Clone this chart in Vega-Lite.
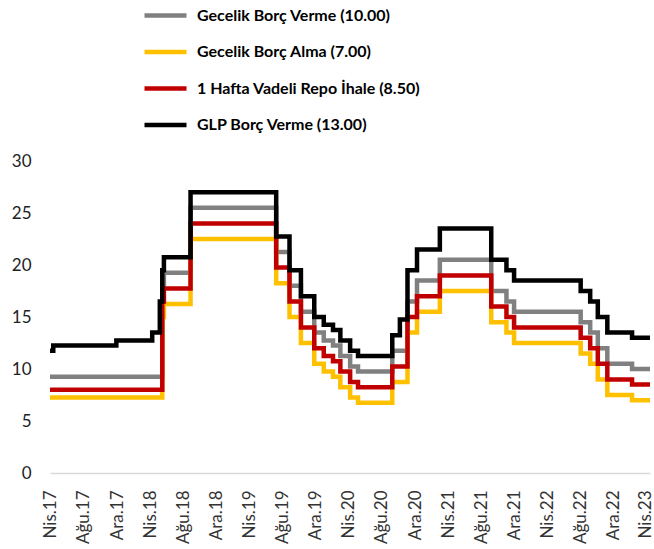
{
  "$schema": "https://vega.github.io/schema/vega-lite/v6.json",
  "autosize": {"type": "none"},
  "width": 600,
  "height": 312,
  "padding": {"left": 50, "top": 161, "right": 4, "bottom": 76},
  "background": "white",
  "config": {
    "view": {"stroke": null},
    "font": "Lato"
  },
  "data": {
    "values": [
      {"d": "2017-04-14", "s": "G", "v": 9.25},
      {"d": "2018-06-01", "s": "G", "v": 18.0},
      {"d": "2018-06-07", "s": "G", "v": 19.25},
      {"d": "2018-09-13", "s": "G", "v": 25.5},
      {"d": "2019-07-25", "s": "G", "v": 21.25},
      {"d": "2019-09-12", "s": "G", "v": 18.0},
      {"d": "2019-10-24", "s": "G", "v": 15.5},
      {"d": "2019-12-12", "s": "G", "v": 13.5},
      {"d": "2020-01-16", "s": "G", "v": 12.75},
      {"d": "2020-02-19", "s": "G", "v": 12.25},
      {"d": "2020-03-17", "s": "G", "v": 11.25},
      {"d": "2020-04-22", "s": "G", "v": 10.25},
      {"d": "2020-05-21", "s": "G", "v": 9.75},
      {"d": "2020-09-24", "s": "G", "v": 11.75},
      {"d": "2020-11-19", "s": "G", "v": 16.5},
      {"d": "2020-12-24", "s": "G", "v": 18.5},
      {"d": "2021-03-18", "s": "G", "v": 20.5},
      {"d": "2021-09-23", "s": "G", "v": 17.5},
      {"d": "2021-11-18", "s": "G", "v": 16.5},
      {"d": "2021-12-16", "s": "G", "v": 15.5},
      {"d": "2022-08-18", "s": "G", "v": 14.5},
      {"d": "2022-09-22", "s": "G", "v": 13.5},
      {"d": "2022-10-20", "s": "G", "v": 12.0},
      {"d": "2022-11-24", "s": "G", "v": 10.5},
      {"d": "2023-02-23", "s": "G", "v": 10.0},
      {"d": "2023-04-30", "s": "G", "v": 10.0},

      {"d": "2017-04-14", "s": "A", "v": 7.25},
      {"d": "2018-06-01", "s": "A", "v": 15.0},
      {"d": "2018-06-07", "s": "A", "v": 16.25},
      {"d": "2018-09-13", "s": "A", "v": 22.5},
      {"d": "2019-07-25", "s": "A", "v": 18.25},
      {"d": "2019-09-12", "s": "A", "v": 15.0},
      {"d": "2019-10-24", "s": "A", "v": 12.5},
      {"d": "2019-12-12", "s": "A", "v": 10.5},
      {"d": "2020-01-16", "s": "A", "v": 9.75},
      {"d": "2020-02-19", "s": "A", "v": 9.25},
      {"d": "2020-03-17", "s": "A", "v": 8.25},
      {"d": "2020-04-22", "s": "A", "v": 7.25},
      {"d": "2020-05-21", "s": "A", "v": 6.75},
      {"d": "2020-09-24", "s": "A", "v": 8.75},
      {"d": "2020-11-19", "s": "A", "v": 13.5},
      {"d": "2020-12-24", "s": "A", "v": 15.5},
      {"d": "2021-03-18", "s": "A", "v": 17.5},
      {"d": "2021-09-23", "s": "A", "v": 14.5},
      {"d": "2021-11-18", "s": "A", "v": 13.5},
      {"d": "2021-12-16", "s": "A", "v": 12.5},
      {"d": "2022-08-18", "s": "A", "v": 11.5},
      {"d": "2022-09-22", "s": "A", "v": 10.5},
      {"d": "2022-10-20", "s": "A", "v": 9.0},
      {"d": "2022-11-24", "s": "A", "v": 7.5},
      {"d": "2023-02-23", "s": "A", "v": 7.0},
      {"d": "2023-04-30", "s": "A", "v": 7.0},

      {"d": "2017-04-14", "s": "R", "v": 8.0},
      {"d": "2018-06-01", "s": "R", "v": 16.5},
      {"d": "2018-06-07", "s": "R", "v": 17.75},
      {"d": "2018-09-13", "s": "R", "v": 24.0},
      {"d": "2019-07-25", "s": "R", "v": 19.75},
      {"d": "2019-09-12", "s": "R", "v": 16.5},
      {"d": "2019-10-24", "s": "R", "v": 14.0},
      {"d": "2019-12-12", "s": "R", "v": 12.0},
      {"d": "2020-01-16", "s": "R", "v": 11.25},
      {"d": "2020-02-19", "s": "R", "v": 10.75},
      {"d": "2020-03-17", "s": "R", "v": 9.75},
      {"d": "2020-04-22", "s": "R", "v": 8.75},
      {"d": "2020-05-21", "s": "R", "v": 8.25},
      {"d": "2020-09-24", "s": "R", "v": 10.25},
      {"d": "2020-11-19", "s": "R", "v": 15.0},
      {"d": "2020-12-24", "s": "R", "v": 17.0},
      {"d": "2021-03-18", "s": "R", "v": 19.0},
      {"d": "2021-09-23", "s": "R", "v": 16.0},
      {"d": "2021-11-18", "s": "R", "v": 15.0},
      {"d": "2021-12-16", "s": "R", "v": 14.0},
      {"d": "2022-08-18", "s": "R", "v": 13.0},
      {"d": "2022-09-22", "s": "R", "v": 12.0},
      {"d": "2022-10-20", "s": "R", "v": 10.5},
      {"d": "2022-11-24", "s": "R", "v": 9.0},
      {"d": "2023-02-23", "s": "R", "v": 8.5},
      {"d": "2023-04-30", "s": "R", "v": 8.5},

      {"d": "2017-04-14", "s": "L", "v": 11.75},
      {"d": "2017-04-26", "s": "L", "v": 12.25},
      {"d": "2017-12-14", "s": "L", "v": 12.75},
      {"d": "2018-04-25", "s": "L", "v": 13.5},
      {"d": "2018-05-23", "s": "L", "v": 16.5},
      {"d": "2018-06-01", "s": "L", "v": 19.5},
      {"d": "2018-06-07", "s": "L", "v": 20.75},
      {"d": "2018-09-13", "s": "L", "v": 27.0},
      {"d": "2019-07-25", "s": "L", "v": 22.75},
      {"d": "2019-09-12", "s": "L", "v": 19.5},
      {"d": "2019-10-24", "s": "L", "v": 17.0},
      {"d": "2019-12-12", "s": "L", "v": 15.0},
      {"d": "2020-01-16", "s": "L", "v": 14.25},
      {"d": "2020-02-19", "s": "L", "v": 13.75},
      {"d": "2020-03-17", "s": "L", "v": 12.75},
      {"d": "2020-04-22", "s": "L", "v": 11.75},
      {"d": "2020-05-21", "s": "L", "v": 11.25},
      {"d": "2020-09-24", "s": "L", "v": 13.25},
      {"d": "2020-10-22", "s": "L", "v": 14.75},
      {"d": "2020-11-19", "s": "L", "v": 19.5},
      {"d": "2020-12-24", "s": "L", "v": 21.5},
      {"d": "2021-03-18", "s": "L", "v": 23.5},
      {"d": "2021-09-23", "s": "L", "v": 20.5},
      {"d": "2021-11-18", "s": "L", "v": 19.5},
      {"d": "2021-12-16", "s": "L", "v": 18.5},
      {"d": "2022-08-18", "s": "L", "v": 17.5},
      {"d": "2022-09-22", "s": "L", "v": 16.5},
      {"d": "2022-10-20", "s": "L", "v": 15.0},
      {"d": "2022-11-24", "s": "L", "v": 13.5},
      {"d": "2023-02-23", "s": "L", "v": 13.0},
      {"d": "2023-04-30", "s": "L", "v": 13.0}
    ]
  },
  "mark": {"type": "line", "interpolate": "step-after", "strokeWidth": 4.5, "strokeCap": "butt"},
  "encoding": {
    "x": {
      "field": "d",
      "type": "temporal",
      "scale": {
        "domain": [
          {"year": 2017, "month": 4, "date": 14, "utc": true},
          {"year": 2023, "month": 4, "date": 30, "utc": true}
        ]
      },
      "axis": {
        "title": null,
        "grid": false,
        "ticks": false,
        "domain": true,
        "domainColor": "#d9d9d9",
        "domainWidth": 1.5,
        "labelAngle": -90,
        "labelPadding": 17,
        "labelFont": "Lato",
        "labelFontSize": 17,
        "labelColor": "#333333",
        "labelOverlap": false,
        "labelFlush": false,
        "labelBound": false,
        "values": [
          {"year": 2017, "month": 4, "date": 17, "utc": true},
          {"year": 2017, "month": 8, "date": 17, "utc": true},
          {"year": 2017, "month": 12, "date": 17, "utc": true},
          {"year": 2018, "month": 4, "date": 17, "utc": true},
          {"year": 2018, "month": 8, "date": 17, "utc": true},
          {"year": 2018, "month": 12, "date": 17, "utc": true},
          {"year": 2019, "month": 4, "date": 17, "utc": true},
          {"year": 2019, "month": 8, "date": 17, "utc": true},
          {"year": 2019, "month": 12, "date": 17, "utc": true},
          {"year": 2020, "month": 4, "date": 17, "utc": true},
          {"year": 2020, "month": 8, "date": 17, "utc": true},
          {"year": 2020, "month": 12, "date": 17, "utc": true},
          {"year": 2021, "month": 4, "date": 17, "utc": true},
          {"year": 2021, "month": 8, "date": 17, "utc": true},
          {"year": 2021, "month": 12, "date": 17, "utc": true},
          {"year": 2022, "month": 4, "date": 17, "utc": true},
          {"year": 2022, "month": 8, "date": 17, "utc": true},
          {"year": 2022, "month": 12, "date": 17, "utc": true},
          {"year": 2023, "month": 4, "date": 13, "utc": true}
        ],
        "labelExpr": "['Oca','Şub','Mar','Nis','May','Haz','Tem','Ağu','Eyl','Eki','Kas','Ara'][utcmonth(datum.value)] + '.' + utcFormat(datum.value, '%y')"
      }
    },
    "y": {
      "field": "v",
      "type": "quantitative",
      "scale": {"domain": [0, 30], "nice": false},
      "axis": {
        "title": null,
        "grid": false,
        "ticks": false,
        "domain": false,
        "values": [0, 5, 10, 15, 20, 25, 30],
        "labelPadding": 19,
        "labelFont": "Lato",
        "labelFontSize": 17,
        "labelColor": "#222222"
      }
    },
    "color": {
      "field": "s",
      "type": "nominal",
      "scale": {
        "domain": ["G", "A", "R", "L"],
        "range": ["#808080", "#FFC000", "#C00000", "#000000"]
      },
      "legend": {
        "orient": "none",
        "legendX": 92,
        "legendY": -169,
        "direction": "vertical",
        "title": null,
        "symbolType": "stroke",
        "symbolSize": 1764,
        "symbolStrokeWidth": 4.5,
        "labelFont": "Lato",
        "labelFontSize": 16,
        "labelFontWeight": "bold",
        "labelColor": "#000000",
        "labelOffset": 8,
        "labelLimit": 400,
        "rowPadding": 3.5,
        "padding": 0,
        "offset": 0,
        "labelExpr": "{'G': '\u00a0Gecelik Borç Verme (10.00)', 'A': '\u00a0Gecelik Borç Alma (7.00)', 'R': '1 Hafta Vadeli Repo İhale (8.50)', 'L': 'GLP Borç Verme (13.00)'}[datum.label]"
      }
    }
  }
}
